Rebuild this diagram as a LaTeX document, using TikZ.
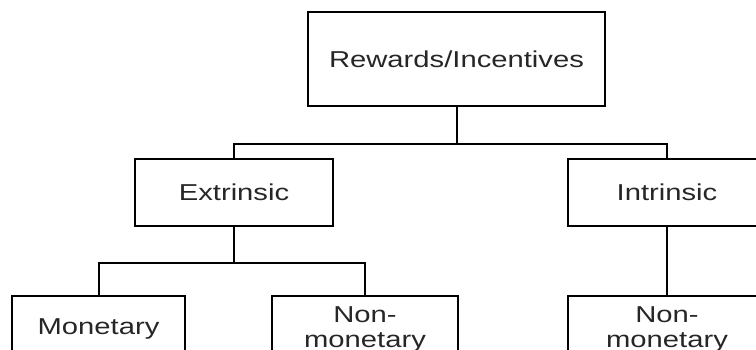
\documentclass[tikz,border=0pt]{standalone}
\usepackage{fontspec}
\newfontfamily\lblfont[FakeStretch=1.27]{Liberation Sans}
\usetikzlibrary{positioning}
\tikzset{
    box/.style={
           rectangle,
           draw=black, line width=2pt,
           minimum height=67pt,
           minimum width=198pt,
           align=center,
           text=black!85,
           font=\lblfont\fontsize{23}{25}\selectfont
           },
    link/.style={
           draw=black, line width=2pt
           }
}
\begin{document}
\begin{tikzpicture}[x=1pt,y=1pt]
   \useasboundingbox (0,0) rectangle (756,-350);
   \clip (0,0) rectangle (756,-350);
   \node[box, minimum width=297pt, minimum height=94pt] (reward) at (456.5,-59) {Rewards/Incentives};
   \node[box] (extr) at (234,-192.5) {Extrinsic};
   \node[box] (intr) at (667,-192.5) {Intrinsic};
   \node[box, minimum width=173pt, minimum height=66pt] (mon) at (98.5,-329) {Monetary};
   \node[box, minimum width=186pt, minimum height=66pt] (nonmon) at (365,-329) {Non-\\monetary};
   \node[box, minimum width=198pt, minimum height=66pt] (inonmon) at (667,-329) {Non-\\monetary};
   \coordinate (topbus) at (456.5,-144);
   \coordinate (extbus) at (234,-263);
   % tree links
   \path[link]
    (reward.south) -- (topbus) -| (extr.north)
    (topbus) -| (intr.north)
    (extr.south) -- (extbus) -| (mon.north)
    (extbus) -| (nonmon.north)
    (intr.south) -- (inonmon.north);
\end{tikzpicture}
\end{document}
